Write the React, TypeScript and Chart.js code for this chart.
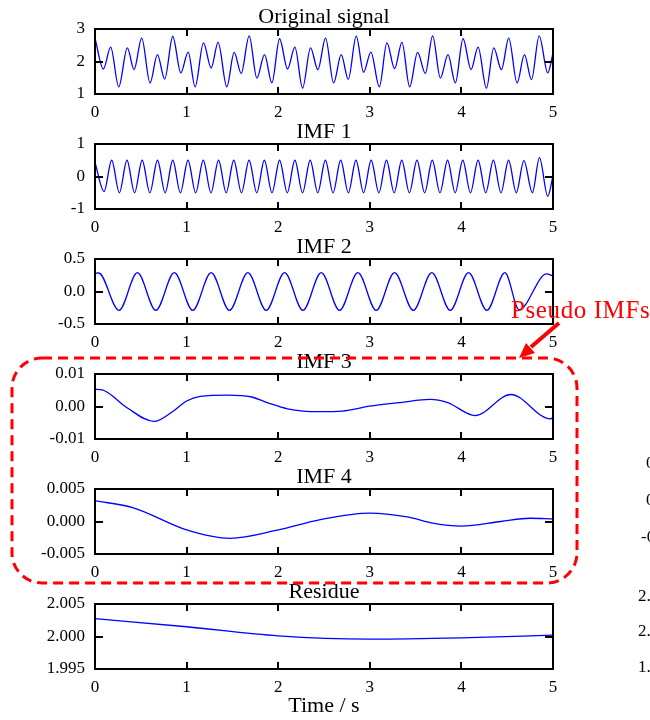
import React, { useEffect, useRef } from 'react';
import { Chart, registerables } from 'chart.js';

Chart.register(...registerables);

// ---------- data ----------
const xTickValues = [0, 1, 2, 3, 4, 5];
const xTickLabels = ['0', '1', '2', '3', '4', '5'];

const panelTitles = ['Original signal', 'IMF 1', 'IMF 2', 'IMF 3', 'IMF 4', 'Residue'];

const originalSignal: [number, number][] = [
  [0, 2.72], [0.091, 1.77], [0.171, 2.44], [0.259, 1.22], [0.353, 2.42], [0.426, 1.75],
  [0.51, 2.72], [0.601, 1.34], [0.681, 2.21], [0.761, 1.46], [0.849, 2.77], [0.937, 1.65],
  [1.017, 2.29], [1.093, 1.22], [1.184, 2.57], [1.268, 1.8], [1.344, 2.59], [1.439, 1.22],
  [1.519, 2.28], [1.596, 1.63], [1.683, 2.79], [1.767, 1.49], [1.851, 2.21], [1.931, 1.34],
  [2.015, 2.7], [2.102, 1.77], [2.182, 2.44], [2.266, 1.18], [2.353, 2.42], [2.433, 1.75],
  [2.517, 2.72], [2.605, 1.34], [2.688, 2.21], [2.765, 1.45], [2.852, 2.78], [2.932, 1.67],
  [3.012, 2.29], [3.104, 1.22], [3.187, 2.57], [3.271, 1.78], [3.351, 2.59], [3.435, 1.22],
  [3.522, 2.28], [3.606, 1.63], [3.686, 2.79], [3.77, 1.49], [3.854, 2.21], [3.934, 1.34],
  [4.018, 2.7], [4.105, 1.75], [4.182, 2.44], [4.273, 1.18], [4.353, 2.42], [4.437, 1.75],
  [4.517, 2.72], [4.608, 1.34], [4.688, 2.21], [4.765, 1.44], [4.849, 2.79], [4.943, 1.65],
  [5, 2.26],
];

const imf1: [number, number][] = [
  [0, 0.43], [0.099, -0.46], [0.182, 0.5], [0.266, -0.5], [0.349, 0.5], [0.432, -0.5],
  [0.515, 0.5], [0.599, -0.5], [0.682, 0.5], [0.766, -0.5], [0.849, 0.5], [0.932, -0.5],
  [1.015, 0.5], [1.099, -0.5], [1.182, 0.5], [1.266, -0.5], [1.349, 0.5], [1.432, -0.5],
  [1.515, 0.5], [1.599, -0.5], [1.682, 0.5], [1.766, -0.5], [1.849, 0.5], [1.932, -0.5],
  [2.015, 0.5], [2.099, -0.5], [2.182, 0.5], [2.266, -0.5], [2.349, 0.5], [2.432, -0.5],
  [2.515, 0.5], [2.599, -0.5], [2.682, 0.5], [2.766, -0.5], [2.849, 0.5], [2.932, -0.5],
  [3.015, 0.5], [3.099, -0.5], [3.182, 0.5], [3.266, -0.5], [3.349, 0.5], [3.432, -0.5],
  [3.515, 0.5], [3.599, -0.5], [3.682, 0.5], [3.766, -0.5], [3.849, 0.5], [3.932, -0.5],
  [4.015, 0.5], [4.099, -0.5], [4.182, 0.5], [4.266, -0.5], [4.349, 0.5], [4.432, -0.5],
  [4.515, 0.5], [4.599, -0.5], [4.682, 0.49], [4.775, -0.5], [4.852, 0.58], [4.943, -0.61],
  [5, 0.02],
];

const imf2: [number, number][] = [
  [0, 0.28], [0.04, 0.285], [0.262, -0.29], [0.463, 0.29], [0.664, -0.29], [0.866, 0.29],
  [1.067, -0.29], [1.268, 0.29], [1.468, -0.29], [1.669, 0.29], [1.869, -0.29], [2.07, 0.29],
  [2.27, -0.29], [2.47, 0.29], [2.67, -0.29], [2.87, 0.29], [3.07, -0.29], [3.27, 0.29],
  [3.475, -0.29], [3.677, 0.29], [3.878, -0.29], [4.078, 0.29], [4.278, -0.29], [4.475, 0.29],
  [4.63, -0.28], [4.93, 0.27], [5, 0.24],
];

const imf3: [number, number][] = [
  [0, 0.0053], [0.08, 0.0051], [0.35, -0.0004], [0.645, -0.0046], [0.86, -0.0013],
  [1.0, 0.0017], [1.15, 0.0031], [1.45, 0.0035], [1.7, 0.003], [1.88, 0.0012],
  [2.1, -0.0007], [2.45, -0.0016], [2.7, -0.0014], [3.0, 0.0001], [3.33, 0.0012],
  [3.66, 0.0022], [3.85, 0.0012], [4.15, -0.0028], [4.54, 0.0037], [4.97, -0.0038],
  [5, -0.0034],
];

const imf4: [number, number][] = [
  [0, 0.0032], [0.42, 0.0021], [1.0, -0.0013], [1.475, -0.0026], [2.0, -0.0013],
  [2.46, 0.0003], [3.0, 0.0013], [3.41, 0.0007], [3.7, -0.0003], [4.0, -0.0007],
  [4.43, 0.0], [4.75, 0.0005], [5, 0.0004],
];

const residue: [number, number][] = [
  [0, 2.00275], [1, 2.0015], [2, 2.0001], [3, 1.9996], [4, 1.9998], [5, 2.0002],
];

const originalYTicks = [1, 2, 3];
const originalYLabels = ['1', '2', '3'];
const imf1YTicks = [-1, 0, 1];
const imf1YLabels = ['-1', '0', '1'];
const imf2YTicks = [-0.5, 0, 0.5];
const imf2YLabels = ['-0.5', '0.0', '0.5'];
const imf3YTicks = [-0.01, 0, 0.01];
const imf3YLabels = ['-0.01', '0.00', '0.01'];
const imf4YTicks = [-0.005, 0, 0.005];
const imf4YLabels = ['-0.005', '0.000', '0.005'];
const residueYTicks = [1.995, 2.0, 2.005];
const residueYLabels = ['1.995', '2.000', '2.005'];

const xAxisTitle = 'Time / s';
const calloutText = 'Pseudo IMFs';
const edgeLabelsTop = ['0.01', '0.00', '-0.01'];
const edgeLabelsBottom = ['2.005', '2.000', '1.995'];

const panels = [
  { title: panelTitles[0], data: originalSignal, ticks: originalYTicks, labels: originalYLabels },
  { title: panelTitles[1], data: imf1, ticks: imf1YTicks, labels: imf1YLabels },
  { title: panelTitles[2], data: imf2, ticks: imf2YTicks, labels: imf2YLabels },
  { title: panelTitles[3], data: imf3, ticks: imf3YTicks, labels: imf3YLabels },
  { title: panelTitles[4], data: imf4, ticks: imf4YTicks, labels: imf4YLabels },
  { title: panelTitles[5], data: residue, ticks: residueYTicks, labels: residueYLabels },
];

// ---------- styling ----------
const SERIF = '"Liberation Serif", "Times New Roman", Times, serif';
const W = 650;
const H = 720;
const BAND = 115;
const AREA_TOP = 29;
const AREA_H = 65;
const AREA_LEFT = 95;
const AREA_RIGHT_PAD = 97;

function framePlugin(title: string) {
  return {
    id: 'frameAndTitle',
    afterDatasetsDraw(chart: any) {
      const { ctx, chartArea } = chart;
      const { left, top, right, bottom } = chartArea;
      const xs = chart.scales.x;
      const ys = chart.scales.y;
      ctx.save();
      ctx.strokeStyle = '#000';
      ctx.lineWidth = 2;
      ctx.strokeRect(left, top, right - left, bottom - top);
      ctx.beginPath();
      xs.ticks.forEach((t: any) => {
        if (t.value > xs.min && t.value < xs.max) {
          const px = Math.round(xs.getPixelForValue(t.value));
          ctx.moveTo(px, bottom);
          ctx.lineTo(px, bottom - 7);
          ctx.moveTo(px, top);
          ctx.lineTo(px, top + 7);
        }
      });
      ys.ticks.forEach((t: any) => {
        if (t.value > ys.min && t.value < ys.max) {
          const py = Math.round(ys.getPixelForValue(t.value));
          ctx.moveTo(left, py);
          ctx.lineTo(left + 8, py);
          ctx.moveTo(right, py);
          ctx.lineTo(right - 8, py);
        }
      });
      ctx.stroke();
      ctx.fillStyle = '#000';
      ctx.font = `22px ${SERIF}`;
      ctx.textAlign = 'center';
      ctx.textBaseline = 'alphabetic';
      ctx.fillText(title, (left + right) / 2, top - 6);
      ctx.restore();
    },
  };
}

const annotationPlugin = {
  id: 'pseudoAnnotation',
  afterDraw(chart: any) {
    const ctx = chart.ctx as CanvasRenderingContext2D;
    ctx.save();
    ctx.strokeStyle = '#ff0000';
    ctx.fillStyle = '#ff0000';
    // dashed rounded box
    const x0 = 12, y0 = 358, x1 = 577, y1 = 583, r = 30;
    ctx.lineWidth = 3;
    ctx.setLineDash([10, 6]);
    ctx.beginPath();
    ctx.moveTo(x0 + r, y0);
    ctx.lineTo(x1 - r, y0);
    ctx.arcTo(x1, y0, x1, y0 + r, r);
    ctx.lineTo(x1, y1 - r);
    ctx.arcTo(x1, y1, x1 - r, y1, r);
    ctx.lineTo(x0 + r, y1);
    ctx.arcTo(x0, y1, x0, y1 - r, r);
    ctx.lineTo(x0, y0 + r);
    ctx.arcTo(x0, y0, x0 + r, y0, r);
    ctx.closePath();
    ctx.stroke();
    ctx.setLineDash([]);
    // arrow
    ctx.lineWidth = 4;
    ctx.beginPath();
    ctx.moveTo(559, 323);
    ctx.lineTo(531, 347);
    ctx.stroke();
    ctx.beginPath();
    ctx.moveTo(519, 358);
    ctx.lineTo(526, 343);
    ctx.lineTo(535, 353);
    ctx.closePath();
    ctx.fill();
    // callout text
    ctx.font = `25px ${SERIF}`;
    (ctx as any).letterSpacing = '0.6px';
    ctx.textAlign = 'left';
    ctx.textBaseline = 'alphabetic';
    ctx.fillText(calloutText, 511, 318);
    (ctx as any).letterSpacing = '0px';
    // partial labels of neighbouring figure at the right edge
    ctx.fillStyle = '#000';
    ctx.font = `17px ${SERIF}`;
    ctx.textBaseline = 'middle';
    const topY = [464, 501, 538];
    const topX = [646, 646, 641];
    edgeLabelsTop.forEach((s, i) => ctx.fillText(s, topX[i], topY[i]));
    const botY = [597, 632, 668];
    edgeLabelsBottom.forEach((s, i) => ctx.fillText(s, 638, botY[i]));
    ctx.restore();
  },
};

export default function App() {
  const refs = useRef<(HTMLCanvasElement | null)[]>([]);

  useEffect(() => {
    const charts = panels.map((p, i) => {
      const canvas = refs.current[i] as HTMLCanvasElement;
      const bandTop = BAND * i;
      const last = i === panels.length - 1;
      const xAxisH = last ? H - (bandTop + AREA_TOP + AREA_H) : 32;
      const padBottom = H - (bandTop + AREA_TOP + AREA_H) - xAxisH;
      const tickFont = { family: SERIF, size: 17 };
      return new Chart(canvas, {
        type: 'line',
        data: {
          datasets: [
            {
              data: p.data.map(([x, y]) => ({ x, y })),
              borderColor: '#0000ff',
              borderWidth: 1.3,
              pointRadius: 0,
              fill: false,
              cubicInterpolationMode: 'monotone',
            },
          ],
        },
        options: {
          animation: false,
          responsive: false,
          events: [],
          layout: {
            padding: { top: bandTop + AREA_TOP, left: 0, right: AREA_RIGHT_PAD, bottom: padBottom },
          },
          plugins: {
            legend: { display: false },
            tooltip: { enabled: false },
            title: { display: false },
          },
          scales: {
            x: {
              type: 'linear',
              min: xTickValues[0],
              max: xTickValues[xTickValues.length - 1],
              afterBuildTicks: (s: any) => {
                s.ticks = xTickValues.map((v) => ({ value: v }));
              },
              afterFit: (s: any) => {
                s.height = xAxisH;
              },
              ticks: {
                callback: (_v: any, idx: number) => xTickLabels[idx],
                font: tickFont,
                color: '#000',
                padding: 8,
                maxRotation: 0,
                autoSkip: false,
              },
              grid: { display: false, drawTicks: false },
              border: { display: false },
              title: last
                ? {
                    display: true,
                    text: xAxisTitle,
                    color: '#000',
                    font: { family: SERIF, size: 22 },
                    padding: { top: 0, bottom: 1 },
                  }
                : { display: false },
            },
            y: {
              type: 'linear',
              min: p.ticks[0],
              max: p.ticks[p.ticks.length - 1],
              afterBuildTicks: (s: any) => {
                s.ticks = p.ticks.map((v) => ({ value: v }));
              },
              afterFit: (s: any) => {
                s.width = AREA_LEFT;
              },
              ticks: {
                callback: (_v: any, idx: number) => p.labels[idx],
                font: tickFont,
                color: '#000',
                padding: 10,
                autoSkip: false,
              },
              grid: { display: false, drawTicks: false },
              border: { display: false },
            },
          },
        },
        plugins: last ? [framePlugin(p.title), annotationPlugin] : [framePlugin(p.title)],
      } as any);
    });
    return () => charts.forEach((c) => c.destroy());
  }, []);

  return (
    <div style={{ position: 'absolute', left: 0, top: 0, width: W, height: H, background: '#fff', overflow: 'hidden' }}>
      {panels.map((p, i) => (
        <canvas
          key={p.title}
          ref={(el) => {
            refs.current[i] = el;
          }}
          width={W}
          height={H}
          style={{ position: 'absolute', left: 0, top: 0, width: W, height: H }}
        />
      ))}
    </div>
  );
}
